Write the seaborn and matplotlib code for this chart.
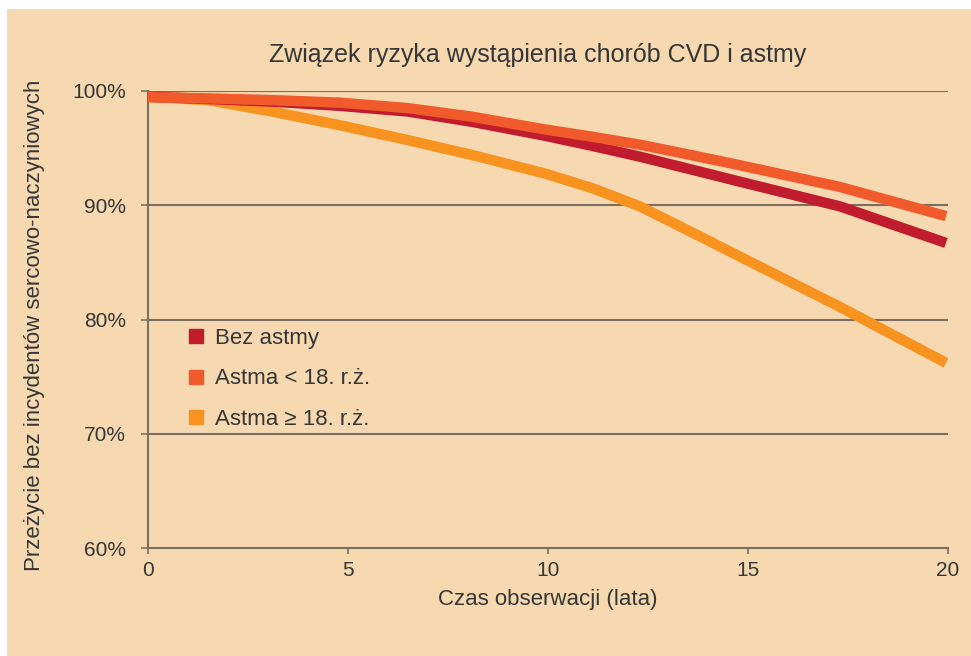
import numpy as np
import pandas as pd
import seaborn as sns
import matplotlib.pyplot as plt
from matplotlib.patches import Rectangle

# lata obserwacji i odczytane wartości przeżycia (%)
lata = [0, 1.5, 3.1, 4.8, 6.5, 8.1, 9.9, 11.1, 12.3, 13.5, 14.8, 17.3, 19.95]
bez_astmy = [99.5, 99.3, 99.07, 98.7, 98.2, 97.3, 96.1, 95.2, 94.25, 93.2, 92.06, 89.9, 86.7]
astma_przed_18 = [99.45, 99.35, 99.2, 98.98, 98.5, 97.75, 96.65, 96.0, 95.3, 94.45, 93.5, 91.6, 89.05]
astma_po_18 = [99.5, 99.2, 98.2, 97.0, 95.7, 94.4, 92.8, 91.5, 89.9, 87.8, 85.5, 81.1, 76.2]

serie = ['Bez astmy', 'Astma < 18. r.ż.', 'Astma ≥ 18. r.ż.']
kolory = {'Bez astmy': '#c11b2e', 'Astma < 18. r.ż.': '#f15a2b', 'Astma ≥ 18. r.ż.': '#f7931e'}

df = pd.concat([
    pd.DataFrame({'lata': lata, 'przezycie': bez_astmy, 'grupa': serie[0]}),
    pd.DataFrame({'lata': lata, 'przezycie': astma_przed_18, 'grupa': serie[1]}),
    pd.DataFrame({'lata': lata, 'przezycie': astma_po_18, 'grupa': serie[2]}),
])

tlo = '#f6d8b1'
tekst = '#363636'
linia = '#7d6f60'

sns.set_style('white')
plt.rcParams['font.family'] = ['Liberation Sans', 'DejaVu Sans']

fig = plt.figure(figsize=(9.71, 6.56), dpi=100, facecolor='white')
fig.patches.append(Rectangle((7 / 971, 0), 1, 1 - 9 / 656, transform=fig.transFigure,
                             facecolor=tlo, edgecolor='none', zorder=-10))
ax = fig.add_axes([148 / 971, 108 / 656, 800 / 971, 457 / 656])
ax.set_facecolor(tlo)

# linie siatki pod krzywymi
for v in [70, 80, 90, 100]:
    ax.axhline(v, color=linia, lw=1.5, zorder=1)

for g in [serie[2], serie[0], serie[1]]:
    d = df[df['grupa'] == g]
    sns.lineplot(data=d, x='lata', y='przezycie', ax=ax, color=kolory[g], lw=7.5,
                 solid_capstyle='butt', solid_joinstyle='round', zorder=3, legend=False)

ax.set_xlim(0, 20)
ax.set_ylim(60, 100)
ax.set_xticks([0, 5, 10, 15, 20])
ax.set_yticks([60, 70, 80, 90, 100])
ax.set_yticklabels(['60%', '70%', '80%', '90%', '100%'])
ax.tick_params(axis='both', colors=linia, labelcolor=tekst, labelsize=15,
               width=1.2, direction='out', left=True, bottom=True)
ax.tick_params(axis='y', length=5, pad=11)
ax.tick_params(axis='x', length=4, pad=5)
for s in ['top', 'right']:
    ax.spines[s].set_visible(False)
for s in ['left', 'bottom']:
    ax.spines[s].set_color(linia)
    ax.spines[s].set_linewidth(1.5)

ax.set_xlabel('Czas obserwacji (lata)', fontsize=16, color=tekst, labelpad=7)
ax.set_ylabel('')
fig.text(35 / 971, 1 - 325 / 656, 'Przeżycie bez incydentów sercowo-naczyniowych',
         rotation=90, ha='center', va='center', fontsize=16, color=tekst)
fig.text(538 / 971, 1 - 55 / 656, 'Związek ryzyka wystąpienia chorób CVD i astmy',
         ha='center', va='center', fontsize=18, color=tekst)

uchwyty = [plt.Line2D([], [], marker='s', ls='none', markersize=10, color=kolory[g]) for g in serie]
leg = ax.legend(uchwyty, serie, loc='upper left', bbox_to_anchor=(0.024, 0.525),
                frameon=False, fontsize=16, handlelength=0.8, handletextpad=0.45,
                labelspacing=0.87, labelcolor=tekst)

fig.savefig('out.png', dpi=100, facecolor='white')
